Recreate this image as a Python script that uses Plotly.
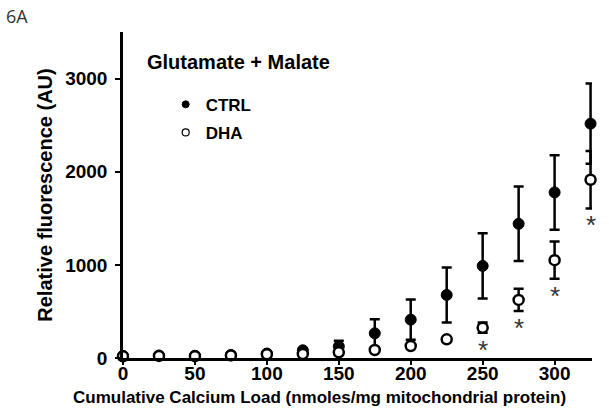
import plotly.graph_objects as go

calcium_load = [0, 25, 50, 75, 100, 125, 150, 175, 200, 225, 250, 275, 300, 325]
ctrl_mean = [22, 27, 24, 32, 48, 83, 125, 265, 412, 677, 989, 1441, 1778, 2516]
ctrl_err = [5, 5, 5, 5, 8, 15, 60, 150, 215, 295, 350, 400, 400, 430]
dha_mean = [18, 22, 20, 28, 40, 43, 61, 86, 129, 200, 326, 624, 1050, 1914]
dha_err = [4, 4, 4, 4, 6, 8, 10, 10, 15, 20, 55, 120, 200, 308]
significant = [False] * 10 + [True, True, True, True]

x_ticks = [0, 50, 100, 150, 200, 250, 300]
y_ticks = [0, 1000, 2000, 3000]

FONT = "Liberation Sans, Arial, sans-serif"

fig = go.Figure()
fig.add_trace(go.Scatter(
    x=calcium_load, y=ctrl_mean, mode="markers", name="CTRL", showlegend=False,
    marker=dict(symbol="circle", size=11, color="black", line=dict(color="black", width=1)),
    error_y=dict(type="data", array=ctrl_err, visible=True, color="black", thickness=2.5, width=5),
    cliponaxis=False,
))
fig.add_trace(go.Scatter(
    x=calcium_load, y=dha_mean, mode="markers", name="DHA", showlegend=False,
    marker=dict(symbol="circle", size=10, color="white", line=dict(color="black", width=2.5)),
    error_y=dict(type="data", array=dha_err, visible=True, color="black", thickness=2.5, width=5),
    cliponaxis=False,
))
# legend entries (smaller symbols, as in the reference key)
fig.add_trace(go.Scatter(
    x=[None], y=[None], mode="markers", name="CTRL", legendgroup="a",
    marker=dict(symbol="circle", size=7, color="black", line=dict(color="black", width=1)),
))
fig.add_trace(go.Scatter(
    x=[None], y=[None], mode="markers", name="DHA", legendgroup="b",
    marker=dict(symbol="circle", size=7, color="white", line=dict(color="black", width=1.2)),
))

for xv, m, e, s in zip(calcium_load, dha_mean, dha_err, significant):
    if s:
        fig.add_annotation(x=xv, y=m - e, xref="x", yref="y", text="*", showarrow=False,
                           yanchor="top", yshift=0,
                           font=dict(family=FONT, size=26, color="#333333"))

fig.add_annotation(x=0.047, y=0.909, xref="paper", yref="paper", text="Glutamate + Malate",
                   showarrow=False, xanchor="left", yanchor="middle",
                   font=dict(family=FONT, size=20, color="black", weight="bold"))
fig.add_annotation(x=-0.253, y=1.048, xref="paper", yref="paper", text="6A",
                   showarrow=False, xanchor="left", yanchor="middle",
                   font=dict(family="Open Sans, sans-serif", size=18, color="#333333"))
fig.add_annotation(x=0.42, y=-0.12, xref="paper", yref="paper",
                   text="Cumulative Calcium Load (nmoles/mg mitochondrial protein)",
                   showarrow=False, xanchor="center", yanchor="middle",
                   font=dict(family=FONT, size=17, color="black", weight="bold"))

fig.update_layout(
    width=609, height=413,
    margin=dict(l=123, r=17, t=32, b=55),
    paper_bgcolor="white", plot_bgcolor="white",
    showlegend=True,
    legend=dict(x=0.091, y=0.832, xanchor="left", yanchor="top",
                font=dict(family=FONT, size=17, color="black", weight="bold"),
                bgcolor="rgba(0,0,0,0)", tracegroupgap=3),
    font=dict(family=FONT, color="black"),
)
fig.update_xaxes(
    range=[0, 326], tickvals=x_ticks, ticktext=[str(v) for v in x_ticks],
    showline=True, linecolor="black", linewidth=2.5, showgrid=False, zeroline=False,
    ticks="outside", ticklen=4, tickwidth=2, tickcolor="black", ticklabelstandoff=-8,
    tickfont=dict(family=FONT, size=19, color="black", weight="bold"),
    automargin=False,
)
fig.update_yaxes(
    range=[0, 3500], tickvals=y_ticks, ticktext=[str(v) for v in y_ticks],
    showline=True, linecolor="black", linewidth=2.5, showgrid=False, zeroline=False,
    ticks="outside", ticklen=5, tickwidth=2, tickcolor="black", ticklabelstandoff=4,
    tickfont=dict(family=FONT, size=19, color="black", weight="bold"),
    title=dict(text="Relative fluorescence (AU)",
               font=dict(family=FONT, size=20, color="black", weight="bold"), standoff=8),
    automargin=False,
)

fig.write_html("out.html", config={"displayModeBar": False},
               post_script="document.body.style.margin='0';")
